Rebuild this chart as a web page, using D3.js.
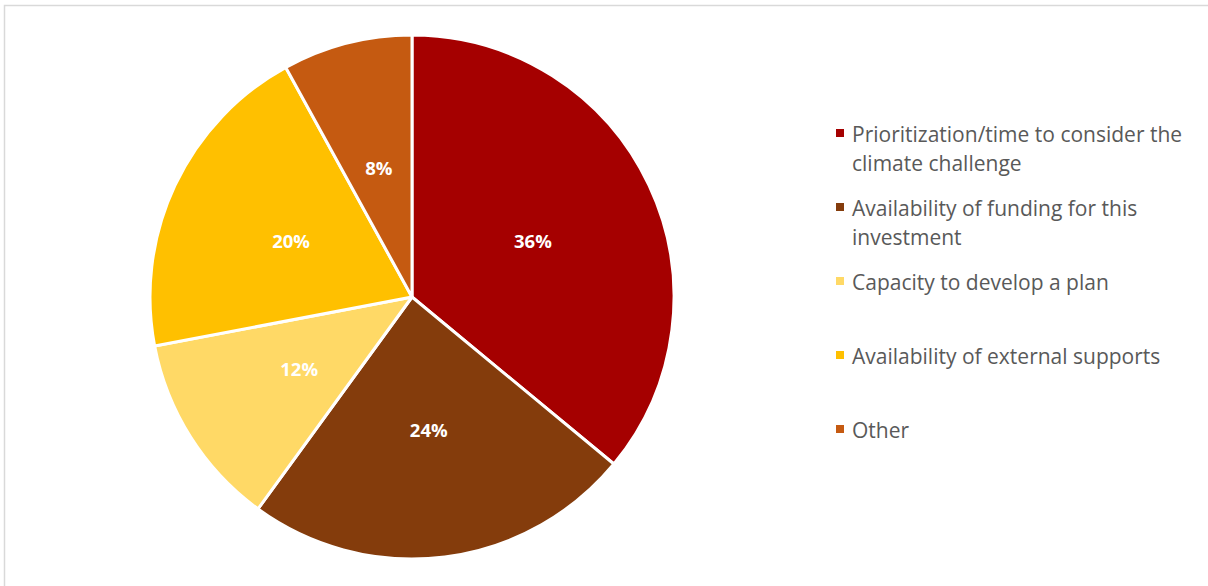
<!DOCTYPE html>
<html>
<head>
<meta charset="utf-8">
<script src="https://cdn.jsdelivr.net/npm/d3@7/dist/d3.min.js"></script>
<style>
  html, body { margin: 0; padding: 0; background: #fff; }
  svg { display: block; }
</style>
</head>
<body>
<svg id="chart" width="1208" height="586"></svg>
<script>
// Barriers to acting on the climate challenge (share of responses)
const categories = [
  "Prioritization/time to consider the climate challenge",
  "Availability of funding for this investment",
  "Capacity to develop a plan",
  "Availability of external supports",
  "Other"
];
const shares = [36, 24, 12, 20, 8];
const sliceColors = ["#A50000", "#843C0C", "#FFD966", "#FFC000", "#C55A11"];
// Legend labels split into the lines they wrap to
const legendLines = [
  ["Prioritization/time to consider the", "climate challenge"],
  ["Availability of funding for this", "investment"],
  ["Capacity to develop a plan"],
  ["Availability of external supports"],
  ["Other"]
];

const svg = d3.select("#chart");
const W = 1208, H = 586;

// chart area frame
svg.append("rect")
  .attr("x", 4.5).attr("y", 5.5)
  .attr("width", W + 10).attr("height", H + 10)
  .attr("fill", "#fff")
  .attr("stroke", "#d9d9d9")
  .attr("stroke-width", 1.5);

const cx = 412, cy = 297, R = 262;
const data = categories.map((c, i) => ({ name: c, value: shares[i], color: sliceColors[i] }));

const pie = d3.pie().value(d => d.value).sort(null);
const arcs = pie(data);
const arc = d3.arc().innerRadius(0).outerRadius(R);
const labelArc = d3.arc().innerRadius(0).outerRadius(R * 1.02);

const g = svg.append("g").attr("transform", `translate(${cx},${cy})`);

g.selectAll("path.slice")
  .data(arcs)
  .join("path")
  .attr("class", "slice")
  .attr("d", arc)
  .attr("fill", d => d.data.color)
  .attr("stroke", "#fff")
  .attr("stroke-width", 3)
  .attr("stroke-linejoin", "round");

g.selectAll("text.pct")
  .data(arcs)
  .join("text")
  .attr("class", "pct")
  .attr("transform", d => `translate(${labelArc.centroid(d)})`)
  .attr("text-anchor", "middle")
  .attr("dominant-baseline", "central")
  .attr("font-family", "'Open Sans', Lato, sans-serif")
  .attr("font-weight", "bold")
  .attr("font-size", 18.5)
  .attr("fill", "#fff")
  .text(d => d.data.value + "%");

// Legend
const legendX = 836, firstBaseline = 142, entryStep = 74, lineStep = 28.5;
const legend = svg.append("g");
data.forEach((d, i) => {
  const base = firstBaseline + i * entryStep;
  legend.append("rect")
    .attr("x", legendX).attr("y", base - 13)
    .attr("width", 8).attr("height", 8)
    .attr("fill", d.color);
  const t = legend.append("text")
    .attr("font-family", "'Open Sans', Lato, sans-serif")
    .attr("font-size", 21)
    .attr("fill", "#595959");
  legendLines[i].forEach((line, j) => {
    t.append("tspan")
      .attr("x", legendX + 16)
      .attr("y", base + j * lineStep)
      .text(line);
  });
});
</script>
</body>
</html>
